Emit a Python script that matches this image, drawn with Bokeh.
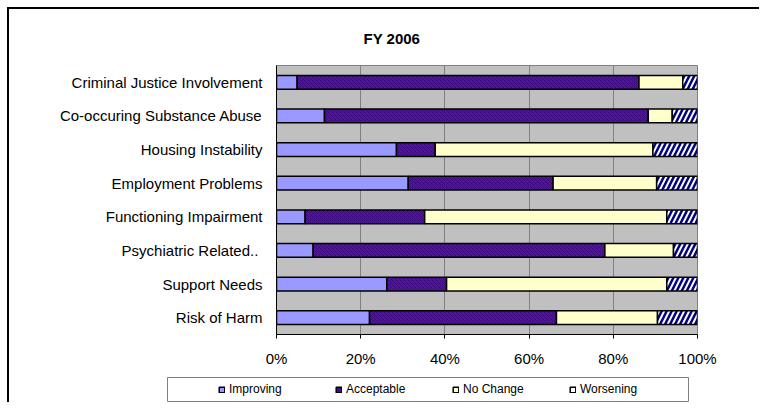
from bokeh.plotting import figure
from bokeh.models import (ColumnDataSource, FactorRange, Range1d, FixedTicker,
                          PrintfTickFormatter, Legend, LegendItem, Title)
from bokeh.layouts import column
from bokeh.transform import stack
from bokeh.embed import file_html
from bokeh.resources import INLINE

# ---- data (top to bottom as shown) ----
categories = ["Criminal Justice Involvement", "Co-occuring Substance Abuse",
              "Housing Instability", "Employment Problems", "Functioning Impairment",
              "Psychiatric  Related..", "Support Needs", "Risk of Harm"]
improving = [4.9, 11.4, 28.5, 31.3, 6.8, 8.7, 26.2, 22.1]
acceptable = [81.2, 76.9, 9.2, 34.4, 28.4, 69.3, 14.2, 44.4]
no_change = [10.4, 5.7, 51.7, 24.6, 57.5, 16.3, 52.3, 24.0]
worsening = [3.5, 6.0, 10.6, 9.7, 7.3, 5.7, 7.3, 9.5]
series = ["Improving", "Acceptable", "No Change", "Worsening"]
x_ticks = [0, 20, 40, 60, 80, 100]
title_text = "FY 2006"

src = ColumnDataSource(dict(cat=categories, Improving=improving, Acceptable=acceptable,
                            **{"No Change": no_change}, Worsening=worsening))

FONT = "Liberation Sans"

p = figure(width=750, height=361, output_backend="svg", toolbar_location=None,
           y_range=FactorRange(*categories[::-1]), x_range=Range1d(0, 100),
           min_border_left=267, min_border_right=62, min_border_top=52,
           min_border_bottom=36)
p.background_fill_color = "#C0C0C0"
p.border_fill_color = "white"
p.outline_line_color = "#808080"

styles = [
    dict(fill_color="#9999FF", hatch_pattern=" "),
    dict(fill_color="#80008A", hatch_pattern="diagonal_cross", hatch_color="#101080",
         hatch_scale=4, hatch_weight=0.6),
    dict(fill_color="#FFFFCC", hatch_pattern=" "),
    dict(fill_color="white", hatch_pattern="right_diagonal_line", hatch_color="#000080",
         hatch_scale=10, hatch_weight=2.5),
]

for i, name in enumerate(series):
    p.hbar(y="cat", left=stack(*series[:i]), right=stack(*series[:i + 1]),
           height=0.41, source=src, line_color="black", line_width=1.5, **styles[i])

# axes
xa = p.xaxis[0]
xa.ticker = FixedTicker(ticks=x_ticks)
xa.formatter = PrintfTickFormatter(format="%d%%")
xa.major_tick_in = 0
xa.major_tick_out = 4
xa.minor_tick_line_color = None
xa.axis_line_color = "black"
xa.major_tick_line_color = "black"
xa.major_label_text_font = FONT
xa.major_label_text_font_size = "15px"
xa.major_label_text_color = "black"
xa.major_label_standoff = 11

ya = p.yaxis[0]
ya.major_tick_line_color = None
ya.major_tick_out = 0
ya.major_tick_in = 0
ya.axis_line_color = "black"
ya.major_label_text_font = FONT
ya.major_label_text_font_size = "15px"
ya.major_label_text_color = "black"
ya.major_label_standoff = 14

p.xgrid.ticker = FixedTicker(ticks=x_ticks)
p.xgrid.grid_line_color = "#808080"
p.ygrid.grid_line_color = None

# title
p.title = Title(text=title_text, align="left", offset=87, standoff=37,
                text_font=FONT, text_font_size="15px", text_font_style="bold",
                text_color="black")

# ---- legend strip (its frame is the legend box) ----
pl = figure(width=750, height=32, output_backend="svg", toolbar_location=None,
            x_range=Range1d(0, 1), y_range=Range1d(0, 1),
            x_axis_type=None, y_axis_type=None,
            min_border_left=158, min_border_right=71, min_border_top=7,
            min_border_bottom=1)
pl.background_fill_color = "white"
pl.border_fill_color = "white"
pl.outline_line_color = "#808080"
pl.grid.grid_line_color = None

for fig in (p, pl):
    try:
        fig.frame_align = False
    except Exception:
        pass

swatch_colors = ["#9999FF", "#4B0A85", "#FFFFCC", "white"]
# one swatch quad each, placed outside the visible range: only its legend icon shows
swatches = [pl.quad(left=[5], right=[6], top=[6], bottom=[5], fill_color=c,
                    line_color="black", line_width=1.5) for c in swatch_colors]

legend = Legend(items=[LegendItem(label=n, renderers=[r]) for n, r in zip(series, swatches)],
                orientation="horizontal", location=(51, 5),
                glyph_width=7, glyph_height=7, label_standoff=4, label_width=106,
                label_height=14, padding=0, spacing=0, margin=0,
                border_line_color=None, background_fill_alpha=0,
                label_text_font=FONT, label_text_font_size="12px", label_text_color="black")
pl.add_layout(legend, "center")

layout = column(p, pl, spacing=0)
layout.styles = {"margin-left": "7px", "margin-top": "7px",
                 "border-left": "2px solid black", "border-top": "2px solid black"}

open("out.html", "w").write(file_html(layout, INLINE))
